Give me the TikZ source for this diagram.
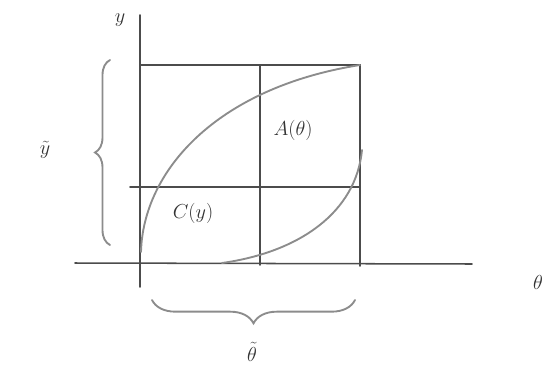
\documentclass[tikz,border=0pt]{standalone}
\usetikzlibrary{decorations.pathreplacing}
\begin{document}
\begin{tikzpicture}[x=0.03cm,y=-0.03cm,
  pencil/.style={line width=1.3pt,black!70,line cap=round},
  soft/.style={line width=1.6pt,black!45,line cap=round},
  lbl/.style={font=\LARGE,black!80}]
\useasboundingbox (0,0) rectangle (556,383);
% axes
\coordinate (ytop) at (140,15);
\coordinate (ybot) at (140,287);
\coordinate (xl) at (75,263);
\coordinate (xr) at (472,264);
\draw[pencil] (ytop) -- (ybot);
\draw[pencil] (xl) -- (xr);
% box and grid
\coordinate (tl) at (140,65);
\coordinate (tr) at (360,65);
\coordinate (br) at (360,266);
\draw[pencil] (tl) -- (tr) -- (br);
\draw[pencil] (260,65) -- (260,265);
\draw[pencil] (130,187) -- (360,187);
% curves
\draw[soft] (141,252) .. controls (143,172) and (215,88) .. (tr);
\draw[soft] (222,263) .. controls (300,252) and (356,212) .. (362,150);
% braces
\draw[soft,decorate,decoration={brace,amplitude=0.45cm}] (110,245) -- (110,60);
\draw[soft,decorate,decoration={brace,amplitude=0.7cm,mirror}] (152,300) -- (355,300);
% labels
\node[lbl] (ylab) at (120,20) {$y$};
\node[lbl] (ytil) at (45,150) {$\tilde{y}$};
\node[lbl] (alab) at (293,130) {$A(\theta)$};
\node[lbl] (clab) at (193,213) {$C(y)$};
\node[lbl] (thlab) at (538,282) {$\theta$};
\node[lbl] (thtil) at (252,352) {$\tilde{\theta}$};
\end{tikzpicture}
\end{document}
